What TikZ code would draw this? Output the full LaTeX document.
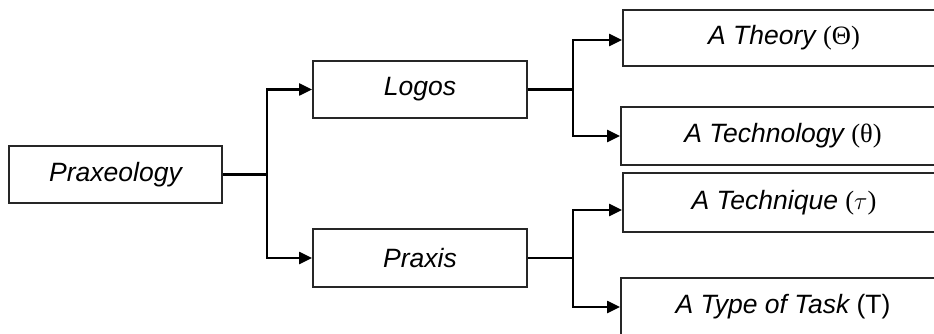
\documentclass[tikz,border=0pt]{standalone}
\usepackage{fontspec}
\setmainfont{Liberation Sans}
\newfontfamily\serifgr{Liberation Serif}
\usetikzlibrary{arrows.meta}
\begin{document}
\begin{tikzpicture}[x=1pt,y=-1pt,
  box/.style={draw=black!85,line width=1.8pt,fill=white,inner sep=0pt,font=\fontsize{26.5}{30}\selectfont\itshape},
  conn/.style={draw=black,line width=2.2pt},
  arr/.style={conn,-{Triangle[length=13pt,width=12pt]}}]
\clip (0,0) rectangle (934,334);
\node[box,minimum width=213,minimum height=57] (prax) at (115.5,174.5) {Praxeology};
\node[box,minimum width=214,minimum height=57] (logos) at (420,89.5) {Logos};
\node[box,minimum width=214,minimum height=58] (praxis) at (420,258) {Praxis};
\node[box,minimum width=322,minimum height=56] (theory) at (784,38) {A Theory {\upshape\serifgr(Θ)}};
\node[box,minimum width=324,minimum height=58] (technology) at (783,136) {A Technology {\upshape\serifgr(θ)}};
\node[box,minimum width=322,minimum height=59] (technique) at (784,202.5) {A Technique {\upshape\serifgr(}$\tau${\upshape\serifgr)}};
\node[box,minimum width=324,minimum height=58] (task) at (783,307) {A Type of Task {\upshape(T)}};
\coordinate (j1) at (267,174.5);
\coordinate (j2) at (573,89.5);
\coordinate (j3) at (573,258);
\draw[conn] (prax.east) -- (j1);
\draw[arr] (j1) |- (logos.west);
\draw[arr] (j1) |- (praxis.west);
\draw[conn] (logos.east) -- (j2);
\draw[arr] (j2) |- ([yshift=-2pt]theory.west);
\draw[arr] (j2) |- (technology.west);
\draw[conn] (praxis.east) -- (j3);
\draw[arr] (j3) |- ([yshift=-7.5pt]technique.west);
\draw[arr] (j3) |- (task.west);
\end{tikzpicture}
\end{document}
